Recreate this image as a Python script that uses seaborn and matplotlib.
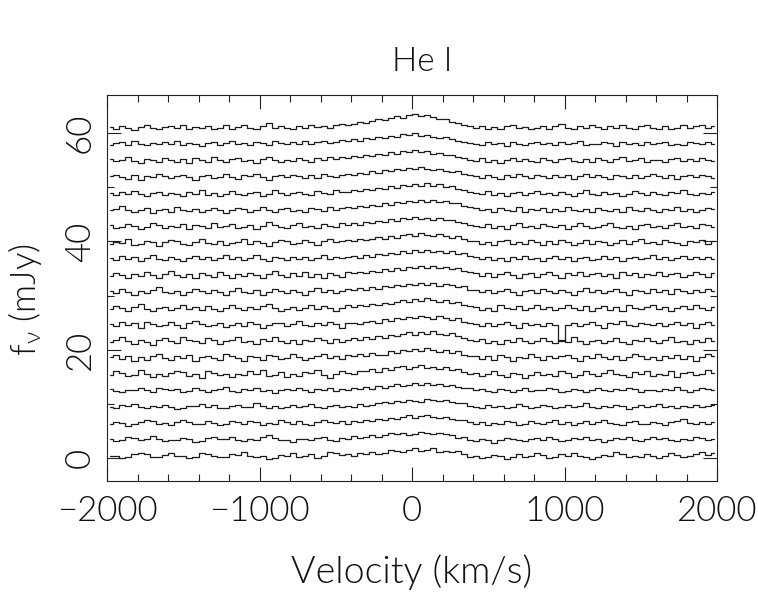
import numpy as np
import pandas as pd
import matplotlib
matplotlib.use("Agg")
import matplotlib.pyplot as plt
import seaborn as sns
from matplotlib.ticker import MultipleLocator

# ---------------- data (mJy), 40 km/s bins from -2000 to +2000 ----------------
bin_width = 40
velocity = np.arange(-2000 + bin_width / 2, 2000, bin_width)   # bin centres
offset_step = 3.0   # vertical offset between successive spectra (mJy)

s00 = [0.4,0.5,0.1,0.2,0.8,1.0,0.7,0.2,0.3,0.6, 0.9,0.4,0.5,0.0,0.3,1.0,0.8,0.4,0.2,0.3,
       0.7,0.6,1.1,0.5,0.2,0.4,-0.2,0.1,0.6,0.5, 0.9,0.3,0.4,0.8,0.1,0.5,1.2,0.9,0.6,0.7,
       0.4,0.9,0.8,1.2,0.7,1.0,1.5,1.3,1.1,1.6, 1.8,1.4,1.5,1.9,1.2,1.4,1.1,1.3,0.7,0.3,
       0.4,0.0,0.3,0.6,0.5,-0.1,0.2,0.8,0.3,0.4, 0.9,0.6,0.1,0.2,0.7,0.5,1.0,0.4,0.3,-0.1,
       0.3,0.6,0.5,1.1,0.7,0.2,0.4,0.3,0.8,0.5, 0.1,0.4,0.9,0.6,0.2,0.5,0.7,1.1,0.6,0.9]
s01 = [0.6,0.2,0.3,0.9,0.7,0.4,0.5,1.1,0.6,0.1, 0.3,0.4,0.8,0.5,0.0,0.2,0.7,0.9,0.5,0.6,
       1.0,0.3,0.2,0.6,0.4,0.9,1.2,0.7,0.3,0.4, 0.0,0.5,0.6,0.3,0.8,1.0,0.4,0.2,0.7,0.6,
       1.1,0.8,0.9,1.3,1.0,1.2,1.6,1.4,1.7,1.3, 1.5,1.9,1.6,1.4,1.7,1.5,1.2,0.8,0.9,0.4,
       0.2,0.5,0.3,-0.1,0.4,0.8,0.6,0.3,0.1,0.5, 0.7,0.4,0.9,0.6,0.2,0.3,0.8,0.5,1.0,0.4,
       0.6,0.0,0.3,0.7,0.5,0.9,0.3,0.2,0.6,1.0, 0.5,0.8,0.4,0.1,0.6,0.3,0.9,0.7,0.4,0.6]
s02 = [0.3,0.7,0.5,0.0,0.4,0.6,1.0,0.8,0.3,0.5, 0.2,0.6,1.1,0.7,0.4,0.3,0.9,0.5,0.1,0.4,
       0.8,0.6,0.3,0.9,0.7,0.2,0.5,0.4,1.0,0.6, 0.3,0.8,0.4,0.1,0.6,1.1,0.7,0.5,0.9,0.4,
       0.8,0.6,1.0,0.9,1.3,1.1,1.5,1.2,1.6,1.9, 1.5,1.7,2.0,1.6,1.4,1.6,1.3,1.0,1.1,0.6,
       0.4,0.7,0.2,0.5,0.3,0.8,0.6,0.1,0.4,0.9, 0.5,0.3,0.7,1.0,0.4,0.6,0.2,0.5,0.8,0.3,
       0.7,1.1,0.5,0.4,0.2,0.6,0.9,0.4,0.3,0.7, 0.5,0.2,0.6,0.8,1.2,0.5,0.3,0.7,0.4,0.6]
s03 = [0.5,0.3,0.8,0.6,1.0,0.4,0.2,0.7,0.5,0.9, 0.4,0.1,0.3,0.7,0.6,1.0,0.5,0.8,0.3,0.2,
       0.6,0.9,0.4,0.5,1.1,0.6,0.3,0.7,0.2,0.5, 0.8,0.4,0.6,1.0,0.5,0.3,0.7,0.9,0.4,0.6,
       0.5,1.0,0.7,0.9,1.2,1.4,1.1,1.6,1.3,1.8, 1.6,1.4,1.9,1.7,1.5,1.8,1.3,1.1,1.2,0.7,
       0.5,0.3,0.8,0.4,0.6,0.2,0.5,1.0,0.7,0.3, 0.4,0.9,0.6,0.2,0.5,0.8,0.4,0.6,1.1,0.5,
       0.3,0.7,0.4,0.9,0.6,0.1,0.4,0.8,0.5,0.7, 1.0,0.4,0.6,0.3,0.7,0.5,0.9,0.4,0.6,0.8]
s04 = [0.7,0.4,0.2,0.6,0.5,0.9,0.6,0.3,1.0,0.7, 0.5,0.8,0.3,0.4,0.9,0.6,0.2,0.5,0.7,1.1,
       0.4,0.3,0.7,0.5,0.9,0.4,0.6,0.1,0.5,0.8, 0.6,1.0,0.5,0.3,0.7,0.6,0.9,0.4,0.8,0.5,
       0.9,0.7,1.1,0.8,1.3,1.0,1.4,1.7,1.4,1.6, 1.9,1.6,1.8,1.5,1.7,1.4,1.6,1.2,0.9,1.0,
       0.6,0.8,0.4,0.3,0.7,0.5,0.2,0.6,0.9,0.4, 0.6,0.5,1.0,0.7,0.3,0.4,0.8,0.6,0.2,0.5,
       0.9,0.6,0.4,0.7,0.5,1.0,0.8,0.3,0.5,0.6, 0.4,0.8,0.6,1.1,0.5,0.3,0.6,0.9,0.7,0.5]
s05 = [0.3,1.0,0.8,0.1,0.4,1.2,0.6,-0.1,0.5,0.2, 0.7,1.1,0.9,0.2,0.6,-0.2,1.0,0.8,0.3,0.5,
       -0.1,0.6,0.4,1.0,0.5,1.3,0.2,0.3,0.9,0.0, 0.6,0.2,0.9,0.7,1.2,0.4,-0.2,0.5,1.0,0.7,
       0.5,1.0,1.1,1.4,0.9,1.6,1.3,1.8,2.0,1.5, 1.8,2.2,1.7,1.9,1.5,1.8,1.2,1.4,0.9,0.6,
       0.8,0.2,0.5,1.0,0.4,-0.1,0.7,0.6,-0.2,0.4, 0.9,0.4,0.6,0.1,1.1,0.8,0.0,0.4,1.0,0.6,
       0.2,0.7,1.2,0.5,0.4,-0.1,0.9,0.6,1.0,0.2, 0.6,0.4,1.0,0.0,0.7,0.9,0.3,0.6,1.2,0.7]
s06 = [0.6,1.1,0.3,0.8,-0.1,0.6,0.2,0.9,1.3,0.5, 0.1,0.8,0.4,1.1,0.0,0.6,0.9,0.4,0.2,1.2,
       0.8,0.4,-0.1,0.9,0.6,0.2,1.1,0.8,0.3,0.5, 1.2,0.6,0.1,0.4,0.9,1.3,0.5,0.8,0.3,1.0,
       0.8,1.3,0.9,1.5,1.1,1.0,1.7,1.4,2.0,1.7, 2.1,1.8,2.3,1.9,1.6,2.0,1.5,1.7,1.0,0.8,
       0.9,0.3,0.8,0.2,1.0,0.6,-0.1,0.7,0.4,1.2, 0.6,0.1,0.9,0.4,0.8,1.1,0.5,-0.1,0.8,0.4,
       1.2,0.6,0.3,0.9,0.1,0.6,1.3,0.8,0.3,0.6, 0.2,0.9,0.5,1.1,0.3,0.8,0.0,0.6,1.2,0.9]
s07 = [0.4,0.8,1.3,0.6,0.1,0.9,0.5,-0.1,0.8,1.1, 0.6,0.2,1.3,0.9,0.6,0.3,1.1,0.8,0.0,0.6,
       0.9,1.3,0.4,0.6,0.1,1.0,0.7,1.3,0.6,0.3, 0.8,0.1,0.9,0.6,1.2,0.8,0.3,1.0,0.5,0.9,
       1.1,0.8,1.3,1.0,1.6,1.2,1.8,1.5,1.9,2.2, 1.7,2.2,1.9,2.4,2.0,1.7,2.1,1.5,1.2,0.9,
       0.6,1.0,0.3,0.6,0.0,0.9,0.5,1.2,0.7,0.2, 0.6,1.1,0.7,0.3,0.9,0.5,1.3,0.7,0.1,0.6,
       0.9,0.3,0.7,1.2,0.5,0.1,0.9,0.6,1.1,0.7, 0.3,0.9,1.3,0.5,0.7,0.0,0.9,0.5,1.1,0.7]
s08 = [0.8,0.4,1.1,0.6,0.9,0.1,1.2,0.7,0.3,0.6, 1.1,0.5,0.1,0.9,1.3,0.7,0.3,0.6,1.0,0.2,
       0.6,0.9,0.3,1.2,0.7,0.1,0.6,1.0,0.9,0.4, 0.7,1.3,0.5,0.3,0.9,0.6,1.1,0.7,0.1,0.9,
       1.0,0.7,1.1,1.4,1.0,1.6,1.3,1.9,1.6,2.1, 1.8,2.3,2.0,1.6,2.2,1.9,1.5,1.8,1.1,1.0,
       0.8,0.4,1.0,0.3,0.7,1.2,0.5,0.1,0.9,0.6, 0.7,0.3,1.0,0.6,-2.3,0.6,0.9,0.4,0.7,1.2,
       0.6,0.1,0.9,0.7,1.3,0.5,0.3,1.0,0.7,0.5, 0.9,0.4,0.7,1.2,0.5,0.9,0.1,0.7,1.1,0.6]
s09 = [0.5,1.1,0.7,0.2,0.9,1.4,0.6,0.1,0.7,0.9, 0.3,0.7,1.3,0.6,0.9,0.3,1.1,0.6,0.1,0.7,
       1.3,0.8,0.3,0.9,0.5,1.1,1.5,0.7,0.2,0.5, 0.9,0.3,0.7,1.3,0.5,1.0,0.7,0.2,0.8,1.3,
       0.9,1.2,1.0,1.5,1.2,1.7,1.4,1.8,2.2,1.9, 2.3,2.0,2.5,2.1,1.8,2.2,1.6,1.9,1.3,1.0,
       0.9,0.4,0.8,0.2,1.2,0.7,0.5,1.0,0.3,0.7, 1.2,0.5,0.9,0.3,0.7,1.3,0.8,0.4,1.0,0.2,
       0.7,1.0,0.4,0.9,0.2,1.2,0.7,0.5,0.9,1.3, 0.5,0.9,0.2,0.7,1.1,0.5,1.2,0.7,0.3,0.9]
s10 = [0.9,0.4,1.2,0.7,0.2,0.9,0.5,1.1,1.5,0.7, 0.4,0.9,0.2,0.7,1.2,0.9,0.4,1.1,0.7,0.2,
       0.8,1.4,0.7,0.4,1.0,0.1,0.7,1.3,0.9,0.4, 1.1,0.7,0.2,0.9,1.4,0.7,1.1,0.4,0.8,1.2,
       1.0,1.4,1.1,1.6,1.3,1.8,1.5,2.0,1.7,2.2, 1.9,2.4,2.0,2.3,1.8,2.2,1.9,1.5,1.7,1.1,
       1.0,0.6,1.1,0.4,0.8,1.3,0.6,0.2,0.8,1.0, 0.4,1.2,0.8,0.4,1.0,0.7,0.2,0.9,1.4,0.7,
       1.0,0.4,0.8,1.2,0.6,0.2,1.0,0.8,0.4,1.2, 0.7,1.0,0.3,1.3,0.8,0.4,1.0,0.6,1.2,0.8]
s11 = [0.6,1.2,0.8,0.3,1.0,0.6,1.4,0.8,0.3,1.0, 1.5,0.8,0.5,1.0,0.3,1.2,0.8,0.5,1.3,0.8,
       0.3,1.0,0.6,1.2,0.8,0.3,1.0,1.5,0.8,0.5, 1.2,0.7,1.3,0.5,1.0,0.3,1.1,0.8,0.5,1.3,
       1.1,1.4,1.2,1.6,1.4,1.9,1.6,2.1,1.8,2.3, 2.0,2.5,2.1,2.4,2.0,2.3,1.9,2.1,1.6,1.3,
       1.2,0.7,1.1,0.5,0.9,1.4,0.8,0.3,1.0,1.1, 0.5,1.0,1.3,0.8,0.3,1.1,0.8,1.4,0.6,1.0,
       1.2,0.6,1.0,0.3,1.3,0.8,1.1,0.5,1.0,0.8, 1.3,0.6,1.0,1.2,0.4,0.8,1.3,1.0,0.5,1.1]
s12 = [1.0,0.5,1.3,0.8,1.1,0.3,0.9,1.4,0.8,0.5, 1.1,0.8,0.3,1.0,1.3,0.7,1.1,0.5,0.9,1.4,
       0.7,1.1,0.5,0.9,1.4,0.8,0.3,1.1,1.0,0.5, 1.2,0.7,1.1,0.5,0.9,1.4,0.7,1.1,0.9,1.2,
       1.3,1.0,1.5,1.2,1.7,1.4,1.9,1.7,2.2,1.9, 2.4,2.1,2.5,2.0,2.3,1.9,2.2,1.6,1.8,1.3,
       1.2,0.7,1.2,0.6,1.0,0.4,1.2,0.8,1.3,0.7, 1.0,0.4,0.9,1.3,0.7,1.1,0.4,0.9,1.2,0.6,
       0.8,1.3,0.7,1.1,0.4,0.9,1.2,0.7,1.0,1.4, 0.7,1.1,0.5,0.9,1.3,0.7,1.1,0.8,1.2,0.7]
s13 = [0.5,0.9,0.7,1.4,0.3,0.6,1.1,0.9,0.2,0.8, 1.2,1.0,0.5,0.3,0.9,1.5,0.7,0.5,1.1,0.3,
       0.7,0.9,1.4,0.5,1.0,0.7,0.2,0.9,1.2,1.0, 0.5,0.7,1.2,0.9,0.4,1.0,1.5,0.9,1.0,1.3,
       1.1,1.5,1.2,1.4,1.8,1.5,2.0,1.7,2.2,2.4, 2.0,2.5,2.2,1.9,2.4,2.0,1.7,2.0,1.4,1.1,
       1.0,0.6,0.8,0.3,1.0,1.3,0.5,0.8,0.6,1.2, 0.8,0.3,1.0,0.6,1.3,0.8,0.4,0.7,1.2,0.5,
       1.0,0.8,0.3,0.7,1.2,0.5,1.0,1.4,0.7,0.8, 0.5,1.2,0.8,0.7,0.3,1.0,0.8,1.3,0.6,1.0]
s14 = [1.0,0.5,0.7,1.2,0.8,0.3,0.7,1.4,1.0,0.5, 0.8,0.7,1.2,0.3,1.0,0.8,0.4,1.4,0.7,0.8,
       1.2,0.5,0.7,1.0,0.3,0.8,1.5,1.0,0.7,0.4, 1.0,1.3,0.7,0.8,0.4,1.2,0.8,0.6,1.3,1.0,
       1.3,1.0,1.6,1.4,1.8,1.6,2.1,1.8,2.3,2.1, 2.5,2.1,2.4,2.0,2.3,1.9,2.0,1.5,1.3,1.0,
       0.9,0.6,1.2,0.5,0.8,0.3,1.0,1.3,0.7,0.8, 0.5,1.2,0.8,0.6,1.0,0.3,0.8,1.4,0.8,0.5,
       0.7,1.0,1.3,0.7,0.4,0.8,0.3,1.0,1.2,0.7, 0.8,0.4,1.0,1.4,0.6,0.8,0.4,1.2,1.0,0.7]
s15 = [0.7,1.0,1.5,0.8,0.4,0.7,1.2,0.3,0.8,1.0, 0.5,1.3,0.8,0.6,1.0,0.4,0.8,1.2,0.7,0.3,
       0.8,1.2,1.0,0.4,0.7,1.3,0.8,0.4,1.0,1.2, 0.6,0.8,0.4,1.2,1.0,0.6,1.3,0.8,1.1,1.4,
       1.2,1.5,1.3,1.7,1.5,2.0,1.7,2.2,2.0,2.5, 2.2,2.6,2.3,2.7,2.2,2.5,2.0,2.1,1.6,1.3,
       1.2,0.8,0.9,0.4,1.1,0.8,0.6,1.3,0.5,1.0, 0.8,1.2,0.5,1.0,0.6,1.4,0.8,0.6,1.0,0.4,
       1.2,0.8,0.6,1.0,0.4,1.3,0.8,0.6,1.2,0.8, 0.4,1.0,0.8,1.3,0.6,1.0,0.4,0.8,1.2,1.0]
s16 = [0.9,0.5,1.1,0.7,1.3,0.8,0.4,1.0,1.2,0.6, 1.0,0.7,0.4,1.2,0.8,1.5,0.6,1.0,0.4,0.8,
       1.3,0.8,0.6,1.0,1.2,0.4,0.8,1.4,1.0,0.6, 1.0,1.2,0.8,0.6,1.3,1.0,0.8,1.4,1.1,1.2,
       1.5,1.3,1.7,1.5,1.9,1.7,2.2,1.9,2.4,2.2, 2.6,2.3,2.7,2.2,2.5,2.1,2.2,1.7,1.5,1.1,
       1.0,0.7,1.3,0.6,1.0,0.4,1.0,1.2,0.6,1.0, 1.3,0.8,1.0,0.5,1.2,0.8,0.4,1.0,1.4,0.8,
       0.6,1.2,0.8,1.0,0.4,0.8,1.3,1.0,0.6,1.2, 0.8,0.5,1.2,1.0,1.4,0.8,0.6,1.0,0.8,1.2]
s17 = [1.0,1.3,0.8,0.5,1.2,0.4,1.0,0.8,1.5,1.0, 0.6,1.0,1.3,0.8,0.4,1.0,1.2,0.6,0.8,1.4,
       0.8,0.5,1.2,1.0,1.5,0.8,0.4,1.0,1.2,0.8, 1.3,1.0,0.7,1.2,0.6,1.4,1.1,0.9,1.3,1.5,
       1.3,1.7,1.5,1.9,1.7,2.1,1.9,2.4,2.1,2.6, 2.3,2.7,2.4,2.1,2.4,2.0,1.8,1.9,1.4,1.2,
       1.0,0.7,1.3,0.9,0.5,1.2,0.8,1.4,1.0,0.6, 1.2,1.0,0.6,1.3,0.8,1.2,0.5,1.0,1.4,0.8,
       1.2,0.8,0.5,1.3,1.0,0.7,1.2,0.6,1.0,1.4, 1.0,0.7,1.2,0.5,1.0,1.3,0.8,1.2,1.0,0.6]
s18 = [1.2,0.8,1.0,1.5,0.8,0.5,1.2,1.0,0.6,1.3, 1.0,0.7,1.2,0.5,1.3,1.0,0.7,1.5,1.0,0.6,
       1.2,1.3,0.8,1.0,0.5,1.2,1.5,1.0,0.7,1.1, 0.9,1.3,1.1,0.7,1.4,1.0,1.5,1.2,1.6,1.4,
       1.7,1.5,1.9,1.7,2.1,1.9,2.4,2.2,2.7,2.5, 2.8,2.4,2.7,2.2,2.3,1.9,1.9,1.5,1.4,1.1,
       0.9,1.3,0.7,1.1,0.5,1.0,1.4,0.8,1.2,0.9, 0.7,1.3,1.0,0.6,1.2,1.4,0.9,0.7,1.2,0.6,
       1.3,1.0,0.7,1.2,1.5,0.8,1.0,1.3,0.7,1.1, 1.0,0.6,1.2,1.3,0.8,1.2,0.9,1.4,1.0,0.8]
s19 = [0.8,1.2,1.3,0.8,1.5,1.0,0.7,1.2,0.9,1.3, 1.0,1.5,0.7,1.2,1.0,0.6,1.2,1.3,0.7,1.1,
       1.5,0.9,1.1,0.7,1.3,1.1,0.7,1.5,1.1,0.9, 1.3,1.0,1.5,0.9,1.3,1.6,1.1,1.4,1.7,1.5,
       1.8,1.6,2.0,1.8,2.3,2.1,2.5,2.3,2.8,2.6, 2.9,2.5,2.7,2.3,2.1,2.2,1.8,1.5,1.3,1.2,
       1.0,0.7,1.3,0.9,1.1,0.6,1.3,0.9,0.7,1.2, 1.4,0.9,1.1,0.7,1.3,0.9,1.1,1.5,0.7,1.0,
       0.9,1.3,1.1,0.6,1.4,0.9,1.1,0.7,1.3,0.9, 1.1,1.4,0.8,1.0,0.7,1.3,1.1,0.9,1.4,1.0]
s20 = [1.1,0.8,1.3,0.9,0.6,1.1,1.4,0.9,0.7,1.1, 1.3,0.9,1.4,0.7,1.1,0.9,1.3,0.7,1.0,1.4,
       0.8,1.1,1.5,1.0,0.8,1.2,1.8,1.0,1.3,1.0, 0.8,1.2,1.0,1.5,1.1,1.3,0.9,1.4,1.7,1.5,
       1.7,2.0,1.8,2.2,2.5,2.3,2.8,3.1,2.8,3.3, 3.5,3.1,3.4,2.9,2.6,2.5,2.1,1.8,1.5,1.2,
       0.9,1.2,0.8,1.1,0.7,1.2,1.5,0.9,1.1,0.7, 1.0,1.3,0.8,1.2,1.6,1.0,0.7,1.2,0.9,1.4,
       1.1,0.7,1.2,0.9,1.4,1.0,0.7,1.2,1.5,1.0, 0.8,1.2,0.7,1.0,1.4,0.9,1.2,1.5,1.0,1.3]

spectra = [s00, s01, s02, s03, s04, s05, s06, s07, s08, s09, s10,
           s11, s12, s13, s14, s15, s16, s17, s18, s19, s20]

title_text = "He I"
xlabel_text = "Velocity (km/s)"
ylabel_text = r"$f_{\nu}$ (mJy)"
xticks = [-2000, -1000, 0, 1000, 2000]
xticklabels = ["\u22122000", "\u22121000", "0", "1000", "2000"]
yticks = [0, 20, 40, 60]

# ---------------- long-form table ----------------
rows = []
for i, s in enumerate(spectra):
    for v, f in zip(velocity, s):
        rows.append({"velocity": v, "flux": f + i * offset_step, "spectrum": i})
df = pd.DataFrame(rows)

# ---------------- figure ----------------
sns.set_style("ticks")
plt.rcParams["font.family"] = ["Lato", "DejaVu Sans"]
plt.rcParams["font.weight"] = 300
plt.rcParams["mathtext.fontset"] = "custom"
plt.rcParams["mathtext.rm"] = "Lato:weight=300"
plt.rcParams["mathtext.it"] = "Lato:weight=300"
plt.rcParams["mathtext.default"] = "regular"

txt_color = "#111111"
fig = plt.figure(figsize=(7.58, 5.95), dpi=100)
ax = fig.add_axes([107 / 758, 1 - 481 / 595, 610 / 758, 386 / 595])

sns.lineplot(data=df, x="velocity", y="flux", units="spectrum", estimator=None,
             color="#1c1c1c", linewidth=0.9, drawstyle="steps-mid",
             legend=False, ax=ax)

ax.set_xlim(-2000, 2000)
ax.set_ylim(-4.2, 67)
ax.set_xticks(xticks)
ax.set_xticklabels(xticklabels)
ax.set_yticks(yticks)
ax.set_yticklabels([str(t) for t in yticks], rotation=90, va="center")
ax.xaxis.set_minor_locator(MultipleLocator(200))
ax.yaxis.set_minor_locator(MultipleLocator(10))

ax.tick_params(which="both", direction="in", top=True, right=True,
               color="#222222", width=0.8)
ax.tick_params(which="major", length=10)
ax.tick_params(which="minor", length=5)
ax.tick_params(axis="x", which="major", labelsize=25, pad=10, labelcolor=txt_color)
ax.tick_params(axis="y", which="major", labelsize=25, pad=8, labelcolor=txt_color)
for lab in ax.get_xticklabels() + ax.get_yticklabels():
    lab.set_fontweight(300)
for sp in ax.spines.values():
    sp.set_linewidth(0.8)
    sp.set_color("#222222")

ax.set_xlabel(xlabel_text, fontsize=27, color=txt_color, labelpad=20, fontweight=300)
ax.set_ylabel(ylabel_text, fontsize=25, color=txt_color, fontweight=300)
ax.yaxis.set_label_coords(-0.104, 0.47)
fig.text(422 / 758, 1 - 62 / 595, title_text, fontsize=24, color=txt_color,
         ha="center", va="center", fontweight=300)

fig.savefig("out.png", dpi=100, facecolor="white")
